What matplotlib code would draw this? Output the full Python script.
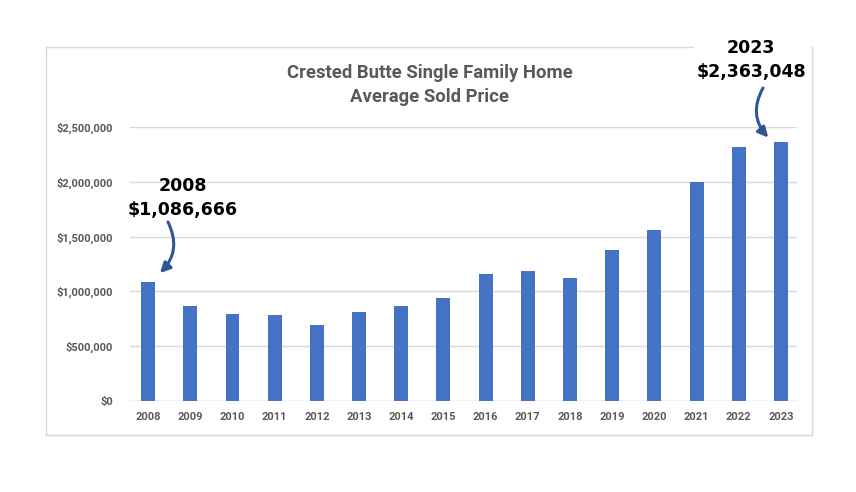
import matplotlib
matplotlib.use("Agg")
import matplotlib.pyplot as plt
from matplotlib.lines import Line2D
from matplotlib.ticker import FuncFormatter

years = ["2008", "2009", "2010", "2011", "2012", "2013", "2014", "2015",
         "2016", "2017", "2018", "2019", "2020", "2021", "2022", "2023"]
avg_price = [1086666, 864000, 797000, 785000, 694000, 809000, 864000, 936000,
             1161000, 1182000, 1121000, 1379000, 1564000, 1994000, 2321000, 2363048]
y_ticks = [0, 500000, 1000000, 1500000, 2000000, 2500000]

title = "Crested Butte Single Family Home\nAverage Sold Price"
bar_color = "#4472C4"
grey = "#595959"
arrow_color = "#2F5597"
label_font = ["Roboto", "DejaVu Sans"]

fig = plt.figure(figsize=(8.56, 4.92), dpi=100)
ax = fig.add_axes([130 / 856, 1 - 401 / 492, 667 / 856, (401 - 127) / 492])

x = range(len(years))
ax.bar(x, avg_price, width=0.33, color=bar_color, zorder=3)
ax.set_xlim(-0.43, len(years) - 0.62)
ax.set_ylim(0, 2500000)
ax.set_xticks(list(x))
ax.set_xticklabels(years)
ax.set_yticks(y_ticks)
ax.yaxis.set_major_formatter(FuncFormatter(lambda v, p: f"${v:,.0f}"))
ax.tick_params(length=0, labelsize=8, labelcolor=grey)
ax.tick_params(axis="y", pad=12)
ax.tick_params(axis="x", pad=8)
for lbl in ax.get_xticklabels() + ax.get_yticklabels():
    lbl.set_family(label_font)
    lbl.set_fontweight("bold")
ax.grid(axis="y", color="#D9D9D9", linewidth=1, zorder=0)
for s in ax.spines.values():
    s.set_visible(False)
ax.axhline(0, color="#D9D9D9", linewidth=1, zorder=1)

fig.text(430 / 856, 1 - 85 / 492, title, ha="center", va="center",
         fontsize=13.3, fontweight="bold", color=grey, linespacing=1.45,
         family=label_font)

# chart frame (top edge broken where the 2023 callout sits)
frame = dict(color="#D9D9D9", linewidth=1, transform=fig.transFigure)
L, R, T, B = 46 / 856, 812 / 856, 1 - 47 / 492, 1 - 435 / 492
fig.add_artist(Line2D([L, 693 / 856], [T, T], **frame))
fig.add_artist(Line2D([L, L], [T, B], **frame))
fig.add_artist(Line2D([L, R], [B, B], **frame))
fig.add_artist(Line2D([R, R], [B, T], **frame))

callout = dict(fontsize=12.5, fontweight="bold", color="black", ha="center",
               va="center", linespacing=1.4)
arrow = dict(arrowstyle="-|>,head_length=0.6,head_width=0.3",
             color=arrow_color, lw=2.2, shrinkA=0, shrinkB=0)
first, last = 0, len(years) - 1

fig.text(183 / 856, 1 - 198 / 492, f"{years[first]}\n${avg_price[first]:,}",
         **callout)
ax.annotate("", xy=(first + 0.28, avg_price[first] + 80000), xycoords="data",
            xytext=(168 / 856, 1 - 222 / 492), textcoords="figure fraction",
            arrowprops=dict(connectionstyle="arc3,rad=-0.35", **arrow))

fig.text(751 / 856, 1 - 60 / 492, f"{years[last]}\n${avg_price[last]:,}",
         **callout)
ax.annotate("", xy=(last - 0.3, avg_price[last] + 40000), xycoords="data",
            xytext=(763 / 856, 1 - 88 / 492), textcoords="figure fraction",
            arrowprops=dict(connectionstyle="arc3,rad=0.35", **arrow))

fig.savefig("out.png", dpi=100)
